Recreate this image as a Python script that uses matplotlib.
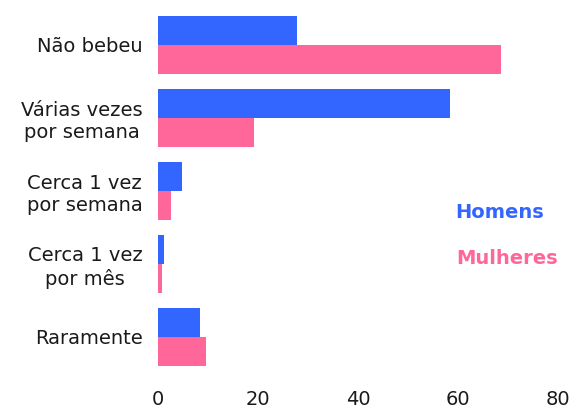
import numpy as np
import matplotlib.pyplot as plt

plt.rcParams['font.family'] = ['DejaVu Sans']

categories = ["Não bebeu", "Várias vezes\npor semana", "Cerca 1 vez\npor semana",
              "Cerca 1 vez\npor mês", "Raramente"]
homens = [27.8, 58.4, 4.8, 1.2, 8.4]
mulheres = [68.6, 19.2, 2.6, 0.8, 9.6]
xticks = [0, 20, 40, 60, 80]

blue = "#3366FF"
pink = "#FF6699"

fig = plt.figure(figsize=(5.74, 4.08), dpi=100)
ax = fig.add_axes([158 / 574, 28 / 408, 400 / 574, 380 / 408])

y = np.arange(len(categories))
h = 0.4
ax.barh(y - h / 2, homens, height=h, color=blue)
ax.barh(y + h / 2, mulheres, height=h, color=pink)

ax.set_xlim(0, 80)
ax.set_ylim(4.589, -0.616)
ax.set_xticks(xticks)
ax.set_yticks(y)
ax.set_yticklabels(categories, multialignment="center", linespacing=1.2)
ax.tick_params(axis="both", length=0, labelsize=14, colors="#1a1a1a")
ax.tick_params(axis="y", pad=11)
ax.tick_params(axis="x", pad=7)
for s in ax.spines.values():
    s.set_visible(False)

ax.text(500 / 574, (408 - 213) / 408, "Homens", transform=fig.transFigure,
        color=blue, fontsize=14, fontweight="bold", ha="center", va="center")
ax.text(507 / 574, (408 - 258) / 408, "Mulheres", transform=fig.transFigure,
        color=pink, fontsize=14, fontweight="bold", ha="center", va="center")

plt.savefig("out.png", dpi=100)
